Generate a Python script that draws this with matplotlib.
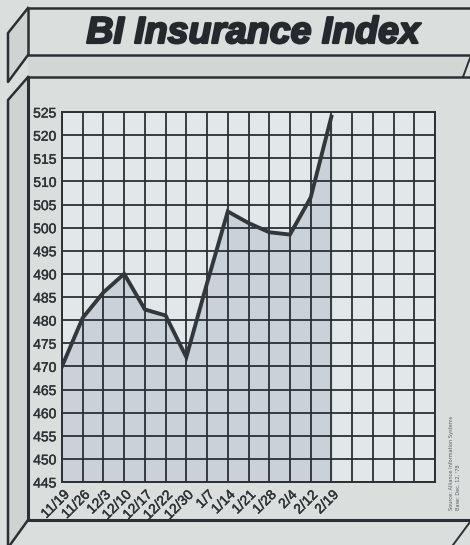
import numpy as np
import matplotlib
matplotlib.use("Agg")
import matplotlib.pyplot as plt
import matplotlib.patheffects as pe
from matplotlib.lines import Line2D
from matplotlib.patches import Polygon

# weekly index values
weeks = ['11/19', '11/26', '12/3', '12/10', '12/17', '12/22', '12/30',
         '1/7', '1/14', '1/21', '1/28', '2/4', '2/12', '2/19']
index_vals = [470, 480.5, 486, 490, 482.3, 481, 472,
              488, 503.5, 501, 499, 498.5, 506.5, 524]
y_ticks = list(range(445, 530, 5))
n_cols = 18

W, H = 470, 545
bg = '#dadedd'
ink = '#2b3035'

fig = plt.figure(figsize=(W / 100, H / 100), dpi=100, facecolor=bg)

def px(x, y):
    return (x / W, 1 - y / H)

def fline(pts, lw=1.8):
    xs, ys = zip(*[px(*p) for p in pts])
    fig.add_artist(Line2D(xs, ys, color=ink, lw=lw, transform=fig.transFigure))

def fpoly(pts, color):
    fig.add_artist(Polygon([px(*p) for p in pts], closed=True, facecolor=color,
                           edgecolor='none', transform=fig.transFigure))

# 3D box decoration
fpoly([(28, 8), (8, 33), (8, 82), (28, 55)], '#cfd4d3')
fpoly([(28, 77), (8, 100), (8, 545), (28, 520)], '#cfd4d3')
fpoly([(28, 55), (470, 55), (470, 58), (463, 77), (28, 77)], '#d2d7d6')
fline([(470, 8), (28, 8), (28, 55), (470, 55)])
fline([(28, 8), (8, 33), (8, 82), (28, 55)])
fline([(28, 77), (470, 77)])
fline([(463, 77), (470, 58)], lw=1.4)
fline([(28, 77), (8, 100), (8, 545)])
fline([(470, 520), (28, 520), (28, 77)], lw=2.2)
fline([(28, 520), (10, 545)])
fline([(453, 545), (470, 522)], lw=1.4)

title = fig.text(px(253, 33)[0], px(253, 33)[1], 'BI Insurance Index', ha='center',
                 va='center', fontsize=27, fontweight='heavy', fontstyle='italic',
                 family='Liberation Sans', color='#25292d')
title.set_path_effects([pe.withStroke(linewidth=1.6, foreground='#25292d')])

ax = fig.add_axes([62 / W, 1 - 482 / H, 373 / W, 370 / H])
ax.set_facecolor('#e2e8ea')
x = np.arange(len(weeks))
ax.fill_between(x, index_vals, 445, color='#c8d2d8', zorder=1)
ax.plot(x, index_vals, color='#33373b', lw=2.8, zorder=3, solid_joinstyle='miter')

ax.set_xlim(0, n_cols)
ax.set_ylim(445, 525)
ax.set_xticks(np.arange(n_cols + 1), minor=False)
ax.set_xticklabels(weeks + [''] * (n_cols + 1 - len(weeks)), rotation=45,
                   ha='right', va='top', rotation_mode='anchor',
                   fontsize=10, family='Liberation Sans', color='#2e3236')
ax.set_yticks(y_ticks)
ax.set_yticklabels([str(v) for v in y_ticks], fontsize=10,
                   family='Liberation Sans', color='#2e3236')
for lab in ax.get_xticklabels() + ax.get_yticklabels():
    lab.set_path_effects([pe.withStroke(linewidth=0.3, foreground='#2e3236')])
ax.tick_params(length=0, pad=4)
ax.tick_params(axis='x', pad=4)
ax.grid(True, color=ink, lw=1.3, zorder=2)
ax.set_axisbelow(False)
for s in ax.spines.values():
    s.set_color(ink)
    s.set_linewidth(1.4)

fig.text(px(451, 510)[0], px(451, 510)[1], 'Source: Alliance Information Systems',
         rotation=90, fontsize=3.6, color='#5a5f63', ha='center', va='bottom')
fig.text(px(458, 510)[0], px(458, 510)[1], "Base: Dec. 12, '78",
         rotation=90, fontsize=3.6, color='#5a5f63', ha='center', va='bottom')

fig.savefig('out.png', dpi=100, facecolor=bg)
